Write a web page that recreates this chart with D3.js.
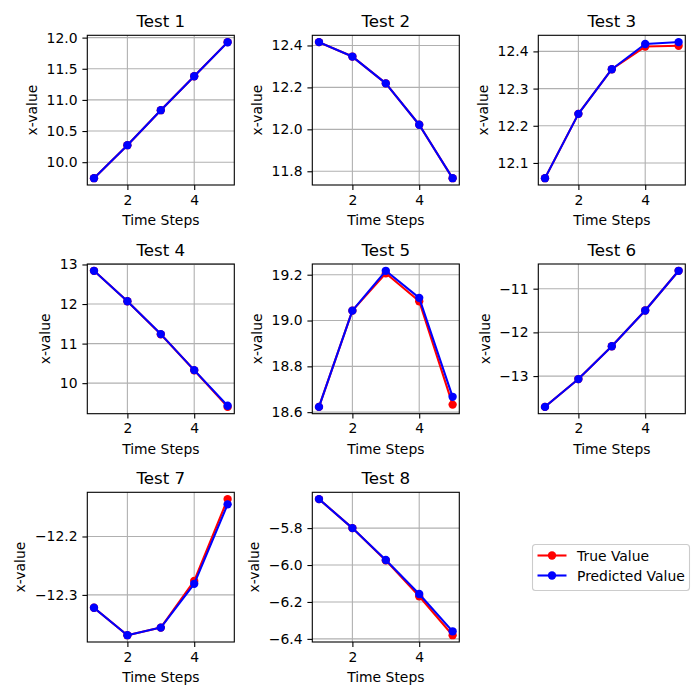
<!DOCTYPE html>
<html>
<head>
<meta charset="utf-8">
<script src="https://cdn.jsdelivr.net/npm/d3@7"></script>
<style>
  body { margin: 0; background: #fff; }
  svg { font-family: "DejaVu Sans", sans-serif; }
</style>
</head>
<body>
<div id="chart"></div>
<script>
// ---- data ----
const timeSteps = [1, 2, 3, 4, 5];
const testNames = ["Test 1", "Test 2", "Test 3", "Test 4", "Test 5", "Test 6", "Test 7", "Test 8"];
const trueValues = [
  [9.743, 10.273, 10.835, 11.380, 11.928],
  [12.416, 12.347, 12.219, 12.022, 11.767],
  [12.059, 12.232, 12.352, 12.413, 12.415],
  [12.840, 12.070, 11.235, 10.325, 9.400],
  [18.623, 19.043, 19.206, 19.084, 18.633],
  [-13.705, -13.068, -12.318, -11.500, -10.591],
  [-12.322, -12.369, -12.356, -12.276, -12.136],
  [-5.643, -5.800, -5.975, -6.169, -6.380]
];
const predValues = [
  [9.743, 10.273, 10.835, 11.380, 11.925],
  [12.416, 12.347, 12.219, 12.022, 11.767],
  [12.059, 12.232, 12.352, 12.420, 12.425],
  [12.840, 12.070, 11.240, 10.330, 9.430],
  [18.623, 19.043, 19.217, 19.099, 18.667],
  [-13.705, -13.068, -12.318, -11.500, -10.591],
  [-12.322, -12.369, -12.356, -12.281, -12.145],
  [-5.643, -5.800, -5.973, -6.157, -6.359]
];
const xTicks = [2, 4];
const yTicks = [
  [10.0, 10.5, 11.0, 11.5, 12.0],
  [11.8, 12.0, 12.2, 12.4],
  [12.1, 12.2, 12.3, 12.4],
  [10, 11, 12, 13],
  [18.6, 18.8, 19.0, 19.2],
  [-13, -12, -11],
  [-12.3, -12.2],
  [-6.4, -6.2, -6.0, -5.8]
];
const yTickFormats = [".1f", ".1f", ".1f", "d", ".1f", "d", ".1f", ".1f"];
const seriesNames = ["True Value", "Predicted Value"];
const seriesColors = ["#ff0000", "#0000ff"];

// ---- layout ----
const W = 700, H = 700;
const colLeft = [87.3, 312.3, 538.3];
const rowTop = [35.3, 264, 492.3];
const axW = 147, axH = 149.7;
const tickFont = 13.9, labelFont = 13.9, titleFont = 16.7;
const tickLen = 4.9;

const svg = d3.select("#chart").append("svg")
  .attr("width", W).attr("height", H);

function fmtMinus(s) { return s.replace("-", "\u2212"); }

testNames.forEach((name, i) => {
  const r = Math.floor(i / 3), c = i % 3;
  const g = svg.append("g").attr("transform", `translate(${colLeft[c]},${rowTop[r]})`);

  const xs = d3.scaleLinear().domain([0.8, 5.2]).range([0, axW]);
  const all = trueValues[i].concat(predValues[i]);
  const [mn, mx] = d3.extent(all);
  const pad = (mx - mn) * 0.05;
  const ys = d3.scaleLinear().domain([mn - pad, mx + pad]).range([axH, 0]);

  // grid
  g.append("g").selectAll("line").data(xTicks).join("line")
    .attr("x1", d => xs(d)).attr("x2", d => xs(d))
    .attr("y1", 0).attr("y2", axH)
    .attr("stroke", "#b0b0b0").attr("stroke-width", 1.1);
  g.append("g").selectAll("line").data(yTicks[i]).join("line")
    .attr("x1", 0).attr("x2", axW)
    .attr("y1", d => ys(d)).attr("y2", d => ys(d))
    .attr("stroke", "#b0b0b0").attr("stroke-width", 1.1);

  // axes
  const fmt = d3.format(yTickFormats[i]);
  const xAxis = d3.axisBottom(xs).tickValues(xTicks).tickSize(tickLen).tickPadding(4.9).tickFormat(d3.format("d"));
  const yAxis = d3.axisLeft(ys).tickValues(yTicks[i]).tickSize(tickLen).tickPadding(4.9).tickFormat(d => fmtMinus(fmt(d)));
  const gx = g.append("g").attr("transform", `translate(0,${axH})`).call(xAxis);
  const gy = g.append("g").call(yAxis);
  [gx, gy].forEach(a => {
    a.select(".domain").remove();
    a.selectAll(".tick line").attr("stroke", "#000").attr("stroke-width", 1.1);
    a.selectAll(".tick text").attr("fill", "#000").attr("font-size", tickFont)
      .attr("font-family", "DejaVu Sans, sans-serif");
  });

  // series
  const line = d3.line().x((d, k) => xs(timeSteps[k])).y(d => ys(d));
  [trueValues[i], predValues[i]].forEach((vals, s) => {
    g.append("path").datum(vals).attr("d", line)
      .attr("fill", "none").attr("stroke", seriesColors[s]).attr("stroke-width", 2.08)
      .attr("stroke-linejoin", "round").attr("stroke-linecap", "square");
    g.append("g").selectAll("circle").data(vals).join("circle")
      .attr("cx", (d, k) => xs(timeSteps[k])).attr("cy", d => ys(d))
      .attr("r", 4.17).attr("fill", seriesColors[s]);
  });

  // frame
  g.append("rect").attr("x", 0).attr("y", 0).attr("width", axW).attr("height", axH)
    .attr("fill", "none").attr("stroke", "#000").attr("stroke-width", 1.1);

  // title
  g.append("text").attr("x", axW / 2).attr("y", -8.3)
    .attr("text-anchor", "middle").attr("font-size", titleFont).attr("fill", "#000")
    .text(name);
  // x label
  g.append("text").attr("x", axW / 2).attr("y", axH + 40)
    .attr("text-anchor", "middle").attr("font-size", labelFont).attr("fill", "#000")
    .text("Time Steps");
  // y label
  const bbox = gy.node().getBBox();
  g.append("text")
    .attr("transform", `translate(${bbox.x - 9.5},${axH / 2}) rotate(-90)`)
    .attr("text-anchor", "middle").attr("font-size", labelFont).attr("fill", "#000")
    .text("x-value");
});

// legend
const lg = svg.append("g").attr("transform", "translate(532.5,544.5)");
lg.append("rect").attr("width", 157).attr("height", 46).attr("rx", 3)
  .attr("fill", "#fff").attr("fill-opacity", 0.8)
  .attr("stroke", "#cccccc").attr("stroke-width", 1.1);
seriesNames.forEach((n, s) => {
  const y = 11 + s * 20;
  lg.append("line").attr("x1", 5).attr("x2", 34).attr("y1", y).attr("y2", y)
    .attr("stroke", seriesColors[s]).attr("stroke-width", 2.08);
  lg.append("circle").attr("cx", 19.5).attr("cy", y).attr("r", 4.17).attr("fill", seriesColors[s]);
  lg.append("text").attr("x", 44.5).attr("y", y + 5).attr("font-size", labelFont).attr("fill", "#000")
    .text(n);
});
</script>
</body>
</html>
